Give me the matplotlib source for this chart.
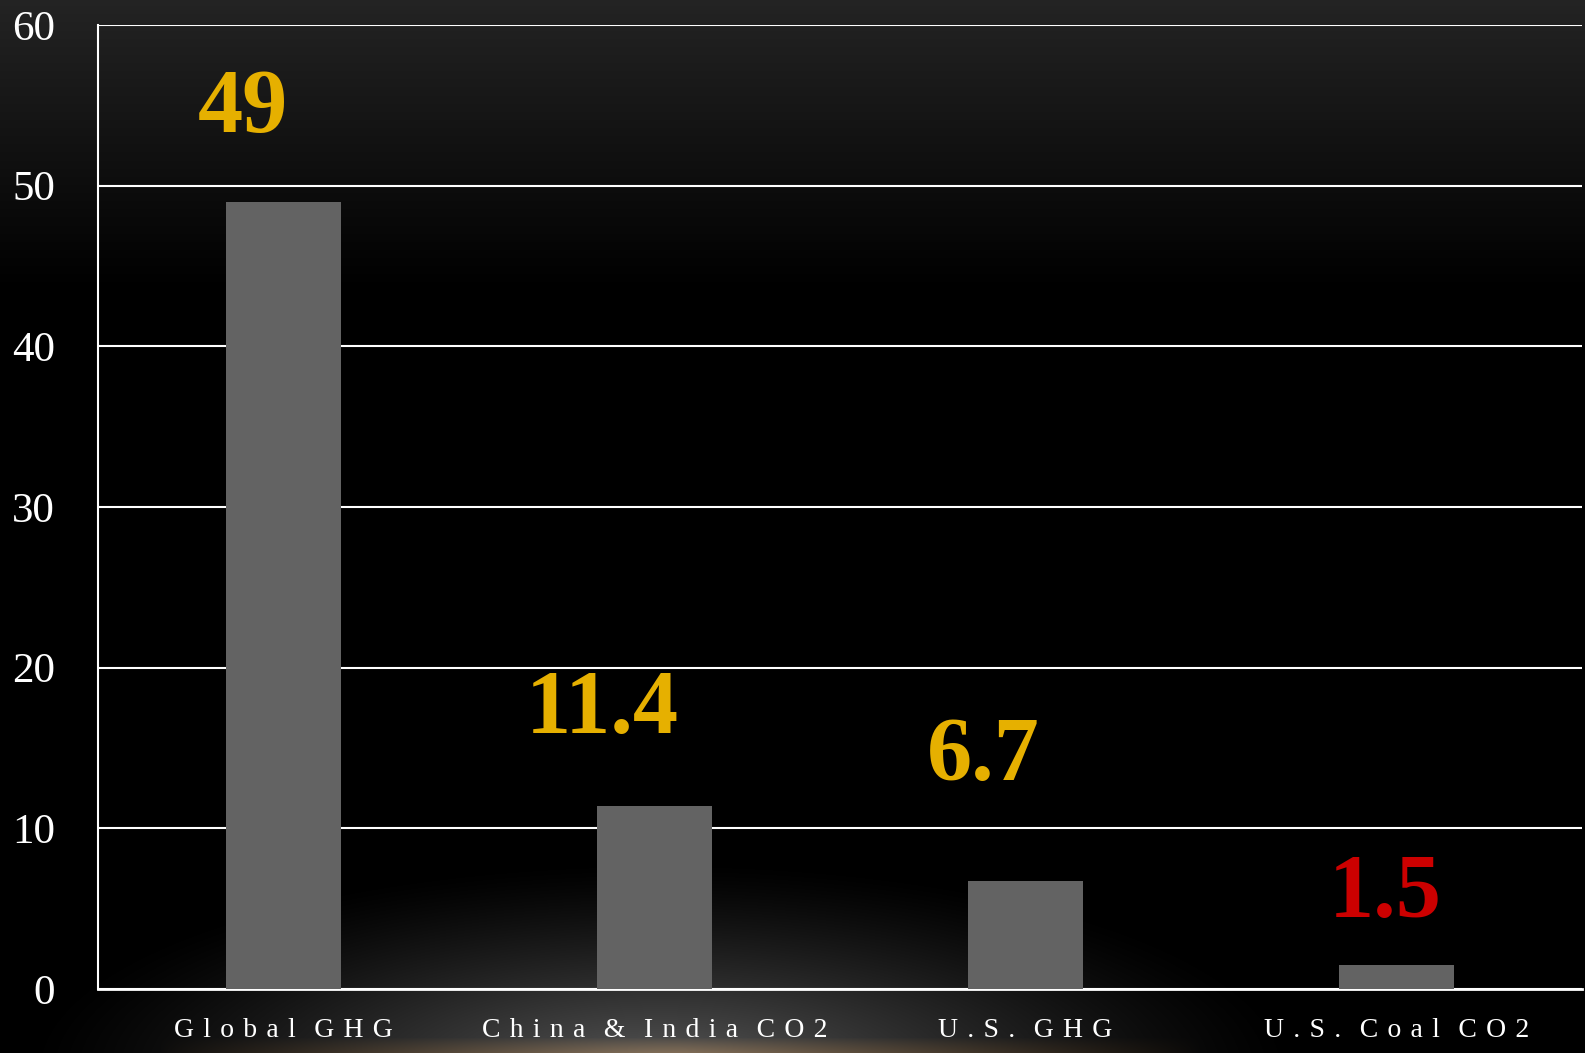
import numpy as np
import matplotlib
matplotlib.use("Agg")
import matplotlib.pyplot as plt

categories = ["Global GHG", "China & India CO2", "U.S. GHG", "U.S. Coal CO2"]
values = [49, 11.4, 6.7, 1.5]
value_labels = ["49", "11.4", "6.7", "1.5"]
label_colors = ["#E6B000", "#E6B000", "#E6B000", "#CC0000"]
# where each number sits relative to the top of its bar, in pixels
label_offsets = [(-41, 70), (-52, 73), (-42, 101), (-11, 48)]
yticks = [0, 10, 20, 30, 40, 50, 60]

SERIF = ["Liberation Serif", "DejaVu Serif"]


def spaced(text):
    """Mimic the wide letter spacing of the original axis labels"""
    gap = "\u2004"
    return (gap * 2).join(gap.join(word) for word in text.split(" "))


def background(w, h):
    """Dark slide background: grey fade at the top, soft glow at the bottom"""
    yy, xx = np.mgrid[0:h, 0:w].astype(float)
    top = np.clip(1 - yy / 290.0, 0, 1) * 0.14
    d = np.sqrt(((xx - 660) / 640.0) ** 2 + ((yy - 1070) / 210.0) ** 2)
    glow = np.clip(1 - d, 0, 1) ** 1.3 * 0.35
    img = np.zeros((h, w, 3))
    for c in range(3):
        img[:, :, c] = top + glow
    # warm tint on the bottom edge
    band = np.clip(1 - np.abs(yy - 1053) / 16.0, 0, 1) ** 0.8
    band *= np.clip(1 - np.abs(xx - 680) / 520.0, 0, 1) ** 0.7
    img[:, :, 0] += band * 0.20
    img[:, :, 1] += band * 0.12
    img[:, :, 2] += band * 0.03
    return np.clip(img, 0, 1)


fig = plt.figure(figsize=(15.85, 10.53), dpi=100)
bg = fig.add_axes([0, 0, 1, 1], zorder=-10)
bg.imshow(background(1585, 1053), aspect="auto", interpolation="bilinear")
bg.axis("off")

ax = fig.add_axes([98 / 1585, 64 / 1053, 1484 / 1585, 964 / 1053])
ax.set_facecolor("none")

x = np.arange(len(categories))
ax.bar(x, values, width=0.31, color="#636363", zorder=3)

ax.set_xlim(-0.5, len(categories) - 0.5)
ax.set_ylim(0, 60)
ax.set_yticks(yticks)
ax.set_yticklabels([str(t) for t in yticks], fontsize=31, color="white",
                   family=SERIF)
ax.set_xticks(x)
ax.set_xticklabels([spaced(c) for c in categories], fontsize=20, color="white",
                   family=SERIF)
ax.tick_params(axis="y", length=0, pad=31)
ax.tick_params(axis="x", length=0, pad=21)
ax.grid(axis="y", color="white", linewidth=1.5, zorder=1)
ax.set_axisbelow(True)

for side in ["top", "right"]:
    ax.spines[side].set_visible(False)
ax.spines["left"].set_color("white")
ax.spines["left"].set_linewidth(1.5)
ax.spines["bottom"].set_color("white")
ax.spines["bottom"].set_linewidth(2)

for i, v in enumerate(values):
    ax.annotate(value_labels[i], (x[i], v), xytext=label_offsets[i],
                textcoords="offset pixels", ha="center", va="baseline",
                fontsize=65, fontweight="bold", color=label_colors[i],
                family=SERIF, zorder=4)

fig.savefig("out.png", dpi=100, facecolor="black")
